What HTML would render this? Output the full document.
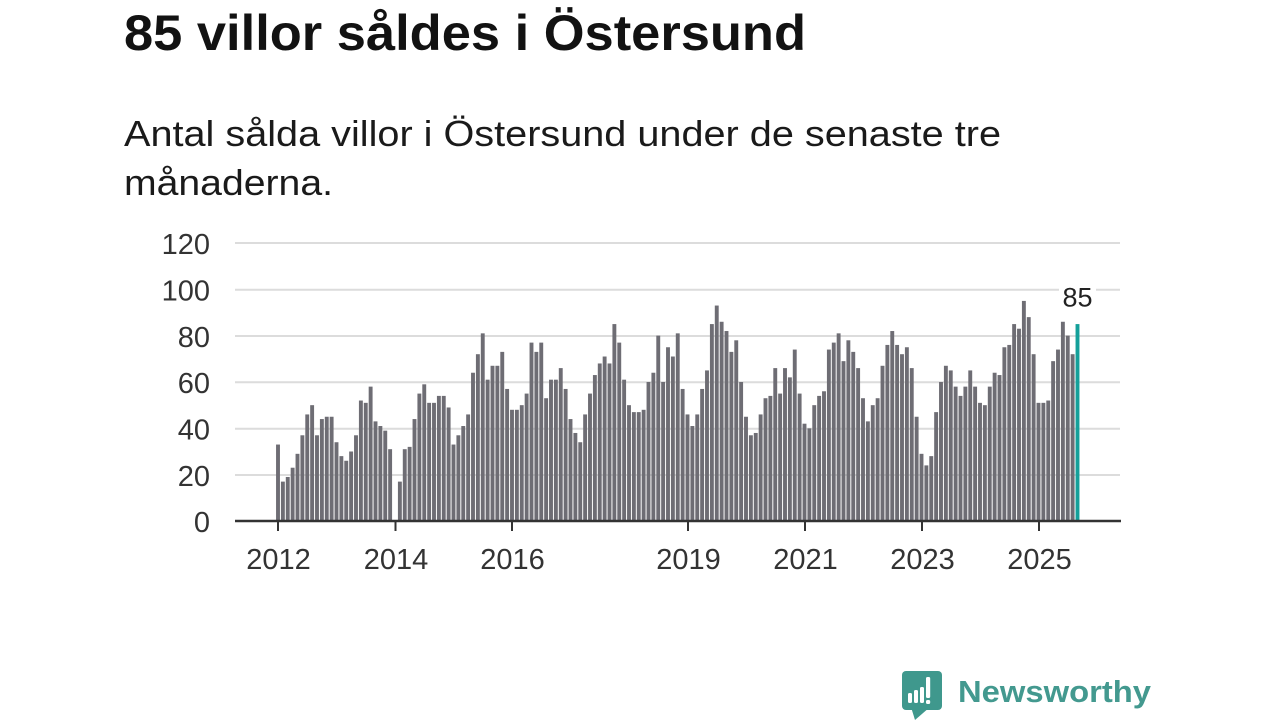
<!DOCTYPE html>
<html>
<head>
<meta charset="utf-8">
<style>
html,body{margin:0;padding:0;background:#fff;}
svg{display:block;}
text{font-family:"Liberation Sans","DejaVu Sans",sans-serif;}
</style>
</head>
<body>
<svg width="1280" height="720" viewBox="0 0 1280 720" xmlns="http://www.w3.org/2000/svg">
<rect x="0" y="0" width="1280" height="720" fill="#fff"/>
<text x="124" y="50" font-size="50" font-weight="bold" fill="#121212" textLength="682" lengthAdjust="spacingAndGlyphs">85 villor såldes i Östersund</text>
<text x="124" y="146" font-size="36" fill="#1a1a1a" textLength="877" lengthAdjust="spacingAndGlyphs">Antal sålda villor i Östersund under de senaste tre</text>
<text x="124" y="195" font-size="36" fill="#1a1a1a" textLength="209" lengthAdjust="spacingAndGlyphs">månaderna.</text>

<g stroke="#dcdcdc" stroke-width="2">
<line x1="235" y1="243" x2="1120" y2="243"/>
<line x1="235" y1="289.7" x2="1120" y2="289.7"/>
<line x1="235" y1="336" x2="1120" y2="336"/>
<line x1="235" y1="382.3" x2="1120" y2="382.3"/>
<line x1="235" y1="428.7" x2="1120" y2="428.7"/>
<line x1="235" y1="475" x2="1120" y2="475"/>
</g>

<g font-size="29" fill="#333" text-anchor="end">
<text x="210" y="254">120</text>
<text x="210" y="300.5">100</text>
<text x="210" y="347">80</text>
<text x="210" y="393">60</text>
<text x="210" y="439.5">40</text>
<text x="210" y="486">20</text>
<text x="210" y="532">0</text>
</g>

<g transform="translate(276.05 521) scale(4.875 -2.3167)" fill="#6e6d74">
<rect x="0" width="0.8" height="33"/><rect x="1" width="0.8" height="17"/><rect x="2" width="0.8" height="19"/><rect x="3" width="0.8" height="23"/><rect x="4" width="0.8" height="29"/><rect x="5" width="0.8" height="37"/><rect x="6" width="0.8" height="46"/><rect x="7" width="0.8" height="50"/><rect x="8" width="0.8" height="37"/><rect x="9" width="0.8" height="44"/><rect x="10" width="0.8" height="45"/><rect x="11" width="0.8" height="45"/>
<rect x="12" width="0.8" height="34"/><rect x="13" width="0.8" height="28"/><rect x="14" width="0.8" height="26"/><rect x="15" width="0.8" height="30"/><rect x="16" width="0.8" height="37"/><rect x="17" width="0.8" height="52"/><rect x="18" width="0.8" height="51"/><rect x="19" width="0.8" height="58"/><rect x="20" width="0.8" height="43"/><rect x="21" width="0.8" height="41"/><rect x="22" width="0.8" height="39"/><rect x="23" width="0.8" height="31"/>
<rect x="25" width="0.8" height="17"/><rect x="26" width="0.8" height="31"/><rect x="27" width="0.8" height="32"/><rect x="28" width="0.8" height="44"/><rect x="29" width="0.8" height="55"/><rect x="30" width="0.8" height="59"/><rect x="31" width="0.8" height="51"/><rect x="32" width="0.8" height="51"/><rect x="33" width="0.8" height="54"/><rect x="34" width="0.8" height="54"/><rect x="35" width="0.8" height="49"/>
<rect x="36" width="0.8" height="33"/><rect x="37" width="0.8" height="37"/><rect x="38" width="0.8" height="41"/><rect x="39" width="0.8" height="46"/><rect x="40" width="0.8" height="64"/><rect x="41" width="0.8" height="72"/><rect x="42" width="0.8" height="81"/><rect x="43" width="0.8" height="61"/><rect x="44" width="0.8" height="67"/><rect x="45" width="0.8" height="67"/><rect x="46" width="0.8" height="73"/><rect x="47" width="0.8" height="57"/>
<rect x="48" width="0.8" height="48"/><rect x="49" width="0.8" height="48"/><rect x="50" width="0.8" height="50"/><rect x="51" width="0.8" height="55"/><rect x="52" width="0.8" height="77"/><rect x="53" width="0.8" height="73"/><rect x="54" width="0.8" height="77"/><rect x="55" width="0.8" height="53"/><rect x="56" width="0.8" height="61"/><rect x="57" width="0.8" height="61"/><rect x="58" width="0.8" height="66"/><rect x="59" width="0.8" height="57"/>
<rect x="60" width="0.8" height="44"/><rect x="61" width="0.8" height="38"/><rect x="62" width="0.8" height="34"/><rect x="63" width="0.8" height="46"/><rect x="64" width="0.8" height="55"/><rect x="65" width="0.8" height="63"/><rect x="66" width="0.8" height="68"/><rect x="67" width="0.8" height="71"/><rect x="68" width="0.8" height="68"/><rect x="69" width="0.8" height="85"/><rect x="70" width="0.8" height="77"/><rect x="71" width="0.8" height="61"/>
<rect x="72" width="0.8" height="50"/><rect x="73" width="0.8" height="47"/><rect x="74" width="0.8" height="47"/><rect x="75" width="0.8" height="48"/><rect x="76" width="0.8" height="60"/><rect x="77" width="0.8" height="64"/><rect x="78" width="0.8" height="80"/><rect x="79" width="0.8" height="60"/><rect x="80" width="0.8" height="75"/><rect x="81" width="0.8" height="71"/><rect x="82" width="0.8" height="81"/><rect x="83" width="0.8" height="57"/>
<rect x="84" width="0.8" height="46"/><rect x="85" width="0.8" height="41"/><rect x="86" width="0.8" height="46"/><rect x="87" width="0.8" height="57"/><rect x="88" width="0.8" height="65"/><rect x="89" width="0.8" height="85"/><rect x="90" width="0.8" height="93"/><rect x="91" width="0.8" height="86"/><rect x="92" width="0.8" height="82"/><rect x="93" width="0.8" height="73"/><rect x="94" width="0.8" height="78"/><rect x="95" width="0.8" height="60"/>
<rect x="96" width="0.8" height="45"/><rect x="97" width="0.8" height="37"/><rect x="98" width="0.8" height="38"/><rect x="99" width="0.8" height="46"/><rect x="100" width="0.8" height="53"/><rect x="101" width="0.8" height="54"/><rect x="102" width="0.8" height="66"/><rect x="103" width="0.8" height="55"/><rect x="104" width="0.8" height="66"/><rect x="105" width="0.8" height="62"/><rect x="106" width="0.8" height="74"/><rect x="107" width="0.8" height="55"/>
<rect x="108" width="0.8" height="42"/><rect x="109" width="0.8" height="40"/><rect x="110" width="0.8" height="50"/><rect x="111" width="0.8" height="54"/><rect x="112" width="0.8" height="56"/><rect x="113" width="0.8" height="74"/><rect x="114" width="0.8" height="77"/><rect x="115" width="0.8" height="81"/><rect x="116" width="0.8" height="69"/><rect x="117" width="0.8" height="78"/><rect x="118" width="0.8" height="73"/><rect x="119" width="0.8" height="66"/>
<rect x="120" width="0.8" height="53"/><rect x="121" width="0.8" height="43"/><rect x="122" width="0.8" height="50"/><rect x="123" width="0.8" height="53"/><rect x="124" width="0.8" height="67"/><rect x="125" width="0.8" height="76"/><rect x="126" width="0.8" height="82"/><rect x="127" width="0.8" height="76"/><rect x="128" width="0.8" height="72"/><rect x="129" width="0.8" height="75"/><rect x="130" width="0.8" height="66"/><rect x="131" width="0.8" height="45"/>
<rect x="132" width="0.8" height="29"/><rect x="133" width="0.8" height="24"/><rect x="134" width="0.8" height="28"/><rect x="135" width="0.8" height="47"/><rect x="136" width="0.8" height="60"/><rect x="137" width="0.8" height="67"/><rect x="138" width="0.8" height="65"/><rect x="139" width="0.8" height="58"/><rect x="140" width="0.8" height="54"/><rect x="141" width="0.8" height="58"/><rect x="142" width="0.8" height="65"/><rect x="143" width="0.8" height="58"/>
<rect x="144" width="0.8" height="51"/><rect x="145" width="0.8" height="50"/><rect x="146" width="0.8" height="58"/><rect x="147" width="0.8" height="64"/><rect x="148" width="0.8" height="63"/><rect x="149" width="0.8" height="75"/><rect x="150" width="0.8" height="76"/><rect x="151" width="0.8" height="85"/><rect x="152" width="0.8" height="83"/><rect x="153" width="0.8" height="95"/><rect x="154" width="0.8" height="88"/><rect x="155" width="0.8" height="72"/>
<rect x="156" width="0.8" height="51"/><rect x="157" width="0.8" height="51"/><rect x="158" width="0.8" height="52"/><rect x="159" width="0.8" height="69"/><rect x="160" width="0.8" height="74"/><rect x="161" width="0.8" height="86"/><rect x="162" width="0.8" height="80"/><rect x="163" width="0.8" height="72"/>
<rect x="164" width="0.8" height="85" fill="#14a09a"/>
</g>

<line x1="235" y1="521" x2="1121" y2="521" stroke="#333" stroke-width="2.5"/>
<g stroke="#333" stroke-width="2">
<line x1="278" y1="521" x2="278" y2="531"/>
<line x1="395.5" y1="521" x2="395.5" y2="531"/>
<line x1="512" y1="521" x2="512" y2="531"/>
<line x1="688" y1="521" x2="688" y2="531"/>
<line x1="805" y1="521" x2="805" y2="531"/>
<line x1="922" y1="521" x2="922" y2="531"/>
<line x1="1039" y1="521" x2="1039" y2="531"/>
</g>
<g font-size="29" fill="#333" text-anchor="middle">
<text x="278.5" y="569">2012</text>
<text x="396" y="569">2014</text>
<text x="512.5" y="569">2016</text>
<text x="688.5" y="569">2019</text>
<text x="805.5" y="569">2021</text>
<text x="922.5" y="569">2023</text>
<text x="1039.5" y="569">2025</text>
</g>

<rect x="1059" y="284" width="37" height="24" fill="#fff"/>
<text x="1077.5" y="306.5" font-size="27" fill="#222" text-anchor="middle">85</text>

<g>
<rect x="902" y="671" width="40" height="39" rx="4" fill="#3f988d"/>
<polygon points="911,707 930,707 915,720" fill="#3f988d"/>
<rect x="908" y="693" width="4" height="10" rx="1.5" fill="#fff"/>
<rect x="914" y="690" width="4" height="13" rx="1.5" fill="#fff"/>
<rect x="920" y="687" width="4" height="16" rx="1.5" fill="#fff"/>
<rect x="926" y="677" width="4.2" height="21" rx="1.5" fill="#fff"/>
<rect x="926" y="700" width="4.2" height="4" rx="1.5" fill="#fff"/>
</g>
<text x="958" y="702" font-size="31" font-weight="bold" fill="#43998f" textLength="193" lengthAdjust="spacingAndGlyphs">Newsworthy</text>
</svg>
</body>
</html>
